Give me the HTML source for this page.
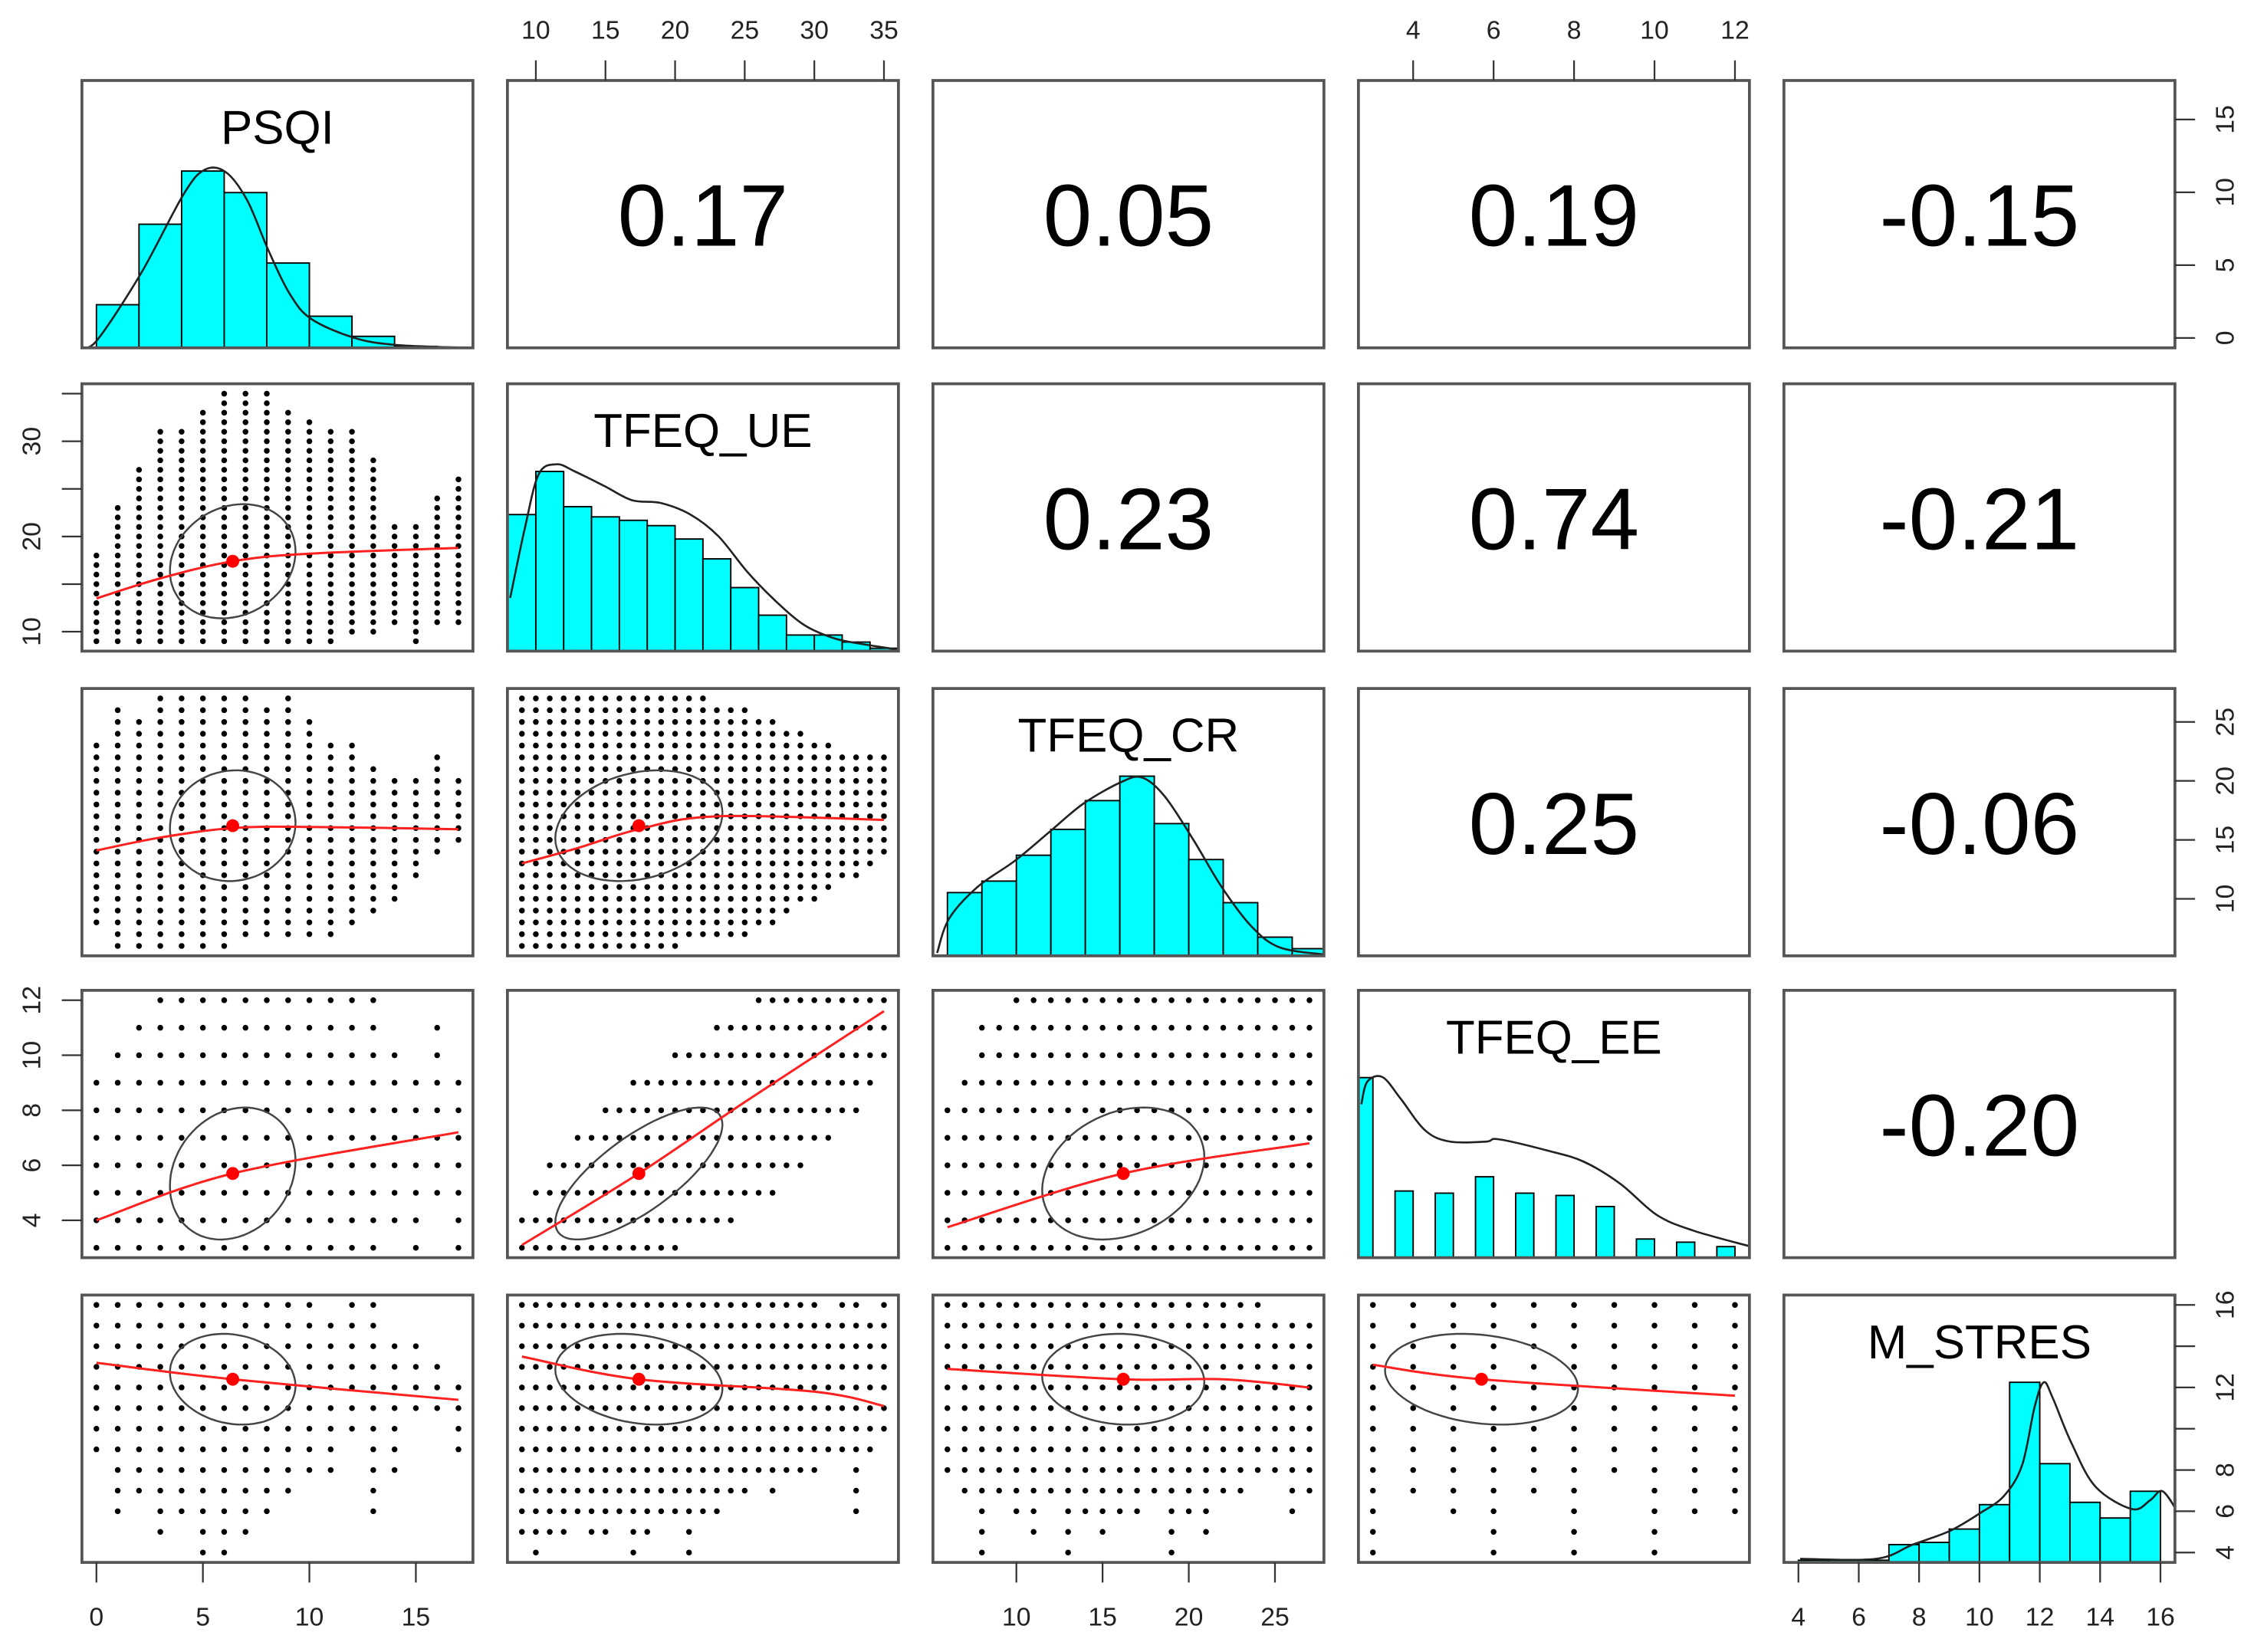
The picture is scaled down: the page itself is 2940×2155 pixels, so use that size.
<!DOCTYPE html>
<html><head><meta charset="utf-8">
<style>
html,body{margin:0;padding:0;background:#fff;}
svg{display:block;font-family:"Liberation Sans",Arial,sans-serif;}
</style></head>
<body>
<svg id="chart" width="2940" height="2155" viewBox="0 0 1568 1149.33" xmlns="http://www.w3.org/2000/svg"></svg>
<script>
// ---- variable data ----
const varNames = ["PSQI","TFEQ_UE","TFEQ_CR","TFEQ_EE","M_STRES"];
const varMin = [0,9,6,3,4];
const varMax = [17,35,27,12,16];
const varMean = [6.4,17.4,16.2,5.7,12.4];
const varSd = [2.95,6.0,4.7,2.4,2.2];
const corrLabels = ["0.17","0.05","0.19","-0.15","0.23","0.74","-0.21","0.25","-0.06","-0.20"];
const corrR = [0.17,0.05,0.19,-0.15,0.23,0.74,-0.21,0.25,-0.06,-0.20];

// ticks
const ticksPSQI = [0,5,10,15];
const ticksUE = [10,15,20,25,30,35];
const ticksUELeft = [10,15,20,25,30,35];
const labelsUELeft = ["10","","20","","30",""];
const ticksCR = [10,15,20,25];
const ticksEE = [4,6,8,10,12];
const ticksMS = [4,6,8,10,12,14,16];
const labelsMSRight = ["4","6","8","","12","","16"];

// histograms (bar heights, relative units)
const histPSQIStart = 0, histPSQIWidth = 2;
const histPSQI = [30,86,123,108,59,22,8,1];
const densPSQIx = [-0.68,0.07,2.1,4.1,5.1,6.1,7.1,8.1,9.1,10.1,12.1,14.1,17.7];
const densPSQIy = [0,6,52,107,124,122,102,67,37,20,7,2,0];
const histUEStart = 8, histUEWidth = 2;
const histUE = [95,125,100.5,93.4,91,87.3,78,64.2,44.2,25,11.2,11.2,6.3,2];
const densUEx = [8.16,9.2,10.2,11.5,12.8,14.9,16.9,19.0,21.1,23.1,25.2,27.2,29.3,31.4,33.4,36];
const densUEy = [37,85,123,130,125,115,105,103,95,80,55,35,18,9,5,1];
const histCRStart = 6, histCRWidth = 2;
const histCR = [44,52,70,88,108,125,92,67,37,13,5];
const densCRx = [5.4,6.1,7.75,9.9,11.9,13.9,16.1,17.3,18.6,20.25,21.9,23.6,25.25,27.8];
const densCRy = [2,26,48,66,86,106,121,124,111,81,48,21,6,1];
const histEEStart = 2.55, histEEWidth = 1, histEEFill = 0.45;
const histEE = [125.3,46.4,44.9,56.3,44.9,43.3,35.6,13,10.8,7.7];
const densEEx = [2.71,2.86,3.24,3.70,4.30,4.91,5.82,6.12,7.33,8.24,9.15,10.06,10.96,12.4];
const densEEy = [106.7,122.5,125.6,110.2,88.5,80.8,80.8,82.4,74.6,66.8,51.4,29.7,18.9,7.7];
const histMSStart = 4, histMSWidth = 1;
const histMS = [1.5,1.5,1.5,12.4,13.9,23.2,40.2,125.3,68.7,41.8,30.9,49.5];
const densMSx = [4.06,6.58,7.79,9.0,10.0,10.82,11.42,11.83,12.13,12.43,13.04,13.85,15.06,15.66,16.07,16.6];
const densMSy = [2.5,2.5,12.4,21.7,34,46.4,68,108.3,125.3,114.4,83.5,52.6,37.1,43.3,49.5,34];
const histYMax = 186;

// scatter column ranges (per integer x value, y from min to max)
const ue_psqi_min = [9,9,9,9,9,9,9,9,9,9,9,9,10,10,11,9,11,11];
const ue_psqi_max = [18,23,27,31,31,33,35,35,35,33,32,31,31,28,21,21,24,26];
const cr_psqi_min = [8,6,6,6,6,6,6,7,7,7,7,7,8,9,10,12,14,15];
const cr_psqi_max = [23,26,25,27,27,27,27,27,26,27,25,23,23,21,20,20,22,20];
const ee_psqi_min = [3,3,3,3,3,3,3,3,3,3,3,3,3,3,4,3,5,3];
const ee_psqi_max = [9,10,11,12,12,12,12,12,12,12,12,12,12,12,10,9,11,9];
const ms_psqi_min = [9,6,7,5,6,4,4,5,6,7,8,8,10,6,8,11,11,9];
const ms_psqi_max = [16,16,16,16,16,16,16,16,16,16,16,15,16,16,14,14,13,12];
const cr_ue_min = [6,6,6,6,6,6,6,6,6,6,6,6,7,7,7,7,7,8,8,9,10,10,11,12,12,13,14];
const cr_ue_max = [27,27,27,27,27,27,27,27,27,27,27,27,27,27,26,26,26,25,25,24,24,23,23,22,22,22,22];
const ee_ue_min = [3,3,3,3,3,3,3,3,3,3,3,3,4,4,4,4,5,5,5,6,6,7,7,8,8,9,10];
const ee_ue_max = [4,5,6,6,7,7,8,8,9,9,9,10,10,10,11,11,11,12,12,12,12,12,12,12,12,12,12];
const ms_ue_min = [5,4,5,5,6,5,5,6,4,5,6,6,4,6,6,7,7,8,7,8,8,8,9,9,6,9,10];
const ms_ue_max = [16,16,16,16,16,16,16,16,16,16,16,16,16,16,16,16,16,16,16,16,16,16,15,16,16,15,16];
const ee_cr_min = [3,3,3,3,3,3,3,3,3,3,3,3,3,3,3,3,3,3,3,3,3,3];
const ee_cr_max = [8,9,11,11,12,12,12,12,12,12,12,12,12,12,12,12,12,12,12,12,12,12];
const ms_cr_min = [8,7,4,7,6,5,7,4,6,5,6,6,7,4,6,5,7,7,8,8,6,7];
const ms_cr_max = [16,16,16,16,16,16,16,16,16,16,16,16,16,16,16,16,16,16,16,15,15,15];
const ms_ee_min = [4,7,6,4,7,4,8,4,6,6];
const ms_ee_max = [16,16,16,16,16,16,16,16,16,16];

// loess fits
const lo_ue_psqi_x = [0,3,6.4,10,17], lo_ue_psqi_y = [13.5,15.6,17.4,18.2,18.8];
const lo_cr_psqi_x = [0,3,6.4,10,17], lo_cr_psqi_y = [14.1,15.2,16.0,16.1,15.9];
const lo_ee_psqi_x = [0,6.4,17], lo_ee_psqi_y = [4.0,5.7,7.2];
const lo_ms_psqi_x = [0,6.4,17], lo_ms_psqi_y = [13.2,12.4,11.4];
const lo_cr_ue_x = [9,13,17.4,23,35], lo_cr_ue_y = [13.0,14.3,15.9,17.0,16.7];
const lo_ee_ue_x = [9,17.4,25,35], lo_ee_ue_y = [3.1,5.7,8.3,11.6];
const lo_ms_ue_x = [9,17.4,30,35], lo_ms_ue_y = [13.5,12.4,11.8,11.1];
const lo_ee_cr_x = [6,16.2,27], lo_ee_cr_y = [3.75,5.7,6.8];
const lo_ms_cr_x = [6,16.2,22,27], lo_ms_cr_y = [12.9,12.4,12.4,12.0];
const lo_ms_ee_x = [3,5.7,12], lo_ms_ee_y = [13.1,12.4,11.6];

// ---- layout ----
const L = [57,353,649,945,1241], T = [56,267,479,689,901], W = 272, H = 186;
const NS = "http://www.w3.org/2000/svg";
const svg = document.getElementById("chart");
function el(tag, attrs, parent){ const e=document.createElementNS(NS,tag); for(const k in attrs) e.setAttribute(k,attrs[k]); (parent||svg).appendChild(e); return e; }
function lo(v){ return varMin[v]-0.04*(varMax[v]-varMin[v]); }
function hi(v){ return varMax[v]+0.04*(varMax[v]-varMin[v]); }
function sx(v,c,val){ return L[c] + (val-lo(v))/(hi(v)-lo(v))*W; }
function sy(v,r,val){ return T[r]+H - (val-lo(v))/(hi(v)-lo(v))*H; }
function hy(r,val){ return T[r]+H - val/histYMax*H; }
function smoothPath(P){
  if(P.length<3) return "M"+P.map(p=>p[0].toFixed(1)+","+p[1].toFixed(1)).join(" L");
  let d="M"+P[0][0].toFixed(1)+","+P[0][1].toFixed(1);
  for(let i=0;i<P.length-1;i++){
    const p0=P[Math.max(0,i-1)],p1=P[i],p2=P[i+1],p3=P[Math.min(P.length-1,i+2)];
    const c1=[p1[0]+(p2[0]-p0[0])/6,p1[1]+(p2[1]-p0[1])/6];
    const c2=[p2[0]-(p3[0]-p1[0])/6,p2[1]-(p3[1]-p1[1])/6];
    d+=" C"+c1[0].toFixed(1)+","+c1[1].toFixed(1)+" "+c2[0].toFixed(1)+","+c2[1].toFixed(1)+" "+p2[0].toFixed(1)+","+p2[1].toFixed(1);
  }
  return d;
}

const rangesMin = {"1-0":ue_psqi_min,"2-0":cr_psqi_min,"3-0":ee_psqi_min,"4-0":ms_psqi_min,"2-1":cr_ue_min,"3-1":ee_ue_min,"4-1":ms_ue_min,"3-2":ee_cr_min,"4-2":ms_cr_min,"4-3":ms_ee_min};
const rangesMax = {"1-0":ue_psqi_max,"2-0":cr_psqi_max,"3-0":ee_psqi_max,"4-0":ms_psqi_max,"2-1":cr_ue_max,"3-1":ee_ue_max,"4-1":ms_ue_max,"3-2":ee_cr_max,"4-2":ms_cr_max,"4-3":ms_ee_max};
const loX = {"1-0":lo_ue_psqi_x,"2-0":lo_cr_psqi_x,"3-0":lo_ee_psqi_x,"4-0":lo_ms_psqi_x,"2-1":lo_cr_ue_x,"3-1":lo_ee_ue_x,"4-1":lo_ms_ue_x,"3-2":lo_ee_cr_x,"4-2":lo_ms_cr_x,"4-3":lo_ms_ee_x};
const loY = {"1-0":lo_ue_psqi_y,"2-0":lo_cr_psqi_y,"3-0":lo_ee_psqi_y,"4-0":lo_ms_psqi_y,"2-1":lo_cr_ue_y,"3-1":lo_ee_ue_y,"4-1":lo_ms_ue_y,"3-2":lo_ee_cr_y,"4-2":lo_ms_cr_y,"4-3":lo_ms_ee_y};
const hists = [
  [histPSQI,histPSQIStart,histPSQIWidth,1,densPSQIx,densPSQIy],
  [histUE,histUEStart,histUEWidth,1,densUEx,densUEy],
  [histCR,histCRStart,histCRWidth,1,densCRx,densCRy],
  [histEE,histEEStart,histEEWidth,histEEFill,densEEx,densEEy],
  [histMS,histMSStart,histMSWidth,1,densMSx,densMSy]];

function corrIndex(i,j){
  let k=0; for(let a=0;a<5;a++) for(let b=a+1;b<5;b++){ if(a===i&&b===j) return k; k++; } return -1; }

for(let r=0;r<5;r++){
  for(let c=0;c<5;c++){
    const g = el("g",{});
    
    
    const cpId = "cp"+r+"-"+c;
    const cp = el("clipPath",{id:cpId},g); el("rect",{x:L[c],y:T[r],width:W,height:H},cp);
    if(r===c){
      const [bars,start,bw,fill,dx,dy] = hists[r];
      const hg = el("g",{"clip-path":"url(#"+cpId+")"},g);
      bars.forEach((b,k)=>{
        const x0 = start + k*bw, x1 = x0 + bw*fill;
        const rect = el("rect",{x:sx(c,c,x0),y:hy(r,b),width:sx(c,c,x1)-sx(c,c,x0),height:b/histYMax*H,fill:"#00ffff",stroke:"#000","stroke-width":1},hg);
        
        
      });
      const P = dx.map((x,k)=>[sx(c,c,x),hy(r,dy[k])]);
      const dl = el("path",{d:smoothPath(P),fill:"none",stroke:"#222","stroke-width":1.4},hg);
      
      
      const t = el("text",{x:L[c]+W/2,y:T[r]+44,"text-anchor":"middle","font-size":33,fill:"#000"},g);
      t.textContent = varNames[r];
      
      
    } else if(r<c){
      const k = corrIndex(r,c);
      const t = el("text",{x:L[c]+W/2,y:T[r]+H/2+22,"text-anchor":"middle","font-size":61,fill:"#000"},g);
      t.textContent = corrLabels[k];
      
      
    } else {
      const key = r+"-"+c;
      const mins = rangesMin[key], maxs = rangesMax[key];
      const pg = el("g",{fill:"#000"},g);
      
      
      for(let k=0;k<mins.length;k++){
        const xv = varMin[c]+k;
        for(let yv=mins[k]; yv<=maxs[k]; yv++){
          const d = el("circle",{cx:sx(c,c,xv),cy:sy(r,r,yv),r:2},pg);
          
          
        }
      }
      const rr = corrR[corrIndex(c,r)], dd = Math.acos(rr);
      const ep=[];
      for(let s=0;s<=72;s++){ const t=s/72*2*Math.PI;
        ep.push(sx(c,c,varMean[c]+varSd[c]*Math.cos(t)).toFixed(1)+","+sy(r,r,varMean[r]+varSd[r]*Math.cos(t-dd)).toFixed(1)); }
      const e = el("polyline",{points:ep.join(" "),fill:"none",stroke:"#444","stroke-width":1.3},g);
      
      
      const lx = loX[key], ly = loY[key];
      const LP = lx.map((x,k)=>[sx(c,c,x),sy(r,r,ly[k])]);
      const l = el("path",{d:smoothPath(LP),fill:"none",stroke:"#ff2020","stroke-width":1.6},g);
      
      
      const m = el("circle",{cx:sx(c,c,varMean[c]),cy:sy(r,r,varMean[r]),r:4.5,fill:"#ff0000"},g);
      
      
    }
    const fr = el("rect",{x:L[c],y:T[r],width:W,height:H,fill:"none",stroke:"#555","stroke-width":2},g);
    
    
  }
}

// ---- axes ----
function xAxis(c, ticks, labels, side){
  const g = el("g",{});
  
  
  const y0 = side==="top" ? T[0] : T[4]+H;
  const dir = side==="top" ? -1 : 1;
  ticks.forEach((v,k)=>{
    const x = sx(c,c,v);
    el("line",{x1:x,y1:y0,x2:x,y2:y0+dir*14,stroke:"#333","stroke-width":1.2},g);
    const t = el("text",{x:x,y:side==="top"?y0-29:y0+44,"text-anchor":"middle","font-size":18,fill:"#222"},g);
    t.textContent = labels ? labels[k] : String(v);
    
    
  });
}
function yAxis(r, ticks, labels, side){
  const g = el("g",{});
  
  
  const x0 = side==="left" ? L[0] : L[4]+W;
  const dir = side==="left" ? -1 : 1;
  ticks.forEach((v,k)=>{
    const y = sy(r,r,v);
    el("line",{x1:x0,y1:y,x2:x0+dir*14,y2:y,stroke:"#333","stroke-width":1.2},g);
    const lab = labels ? labels[k] : String(v);
    if(lab){
      const tx = side==="left" ? x0-29 : x0+41;
      const t = el("text",{x:tx,y:y,"text-anchor":"middle","font-size":18,fill:"#222",transform:"rotate(-90 "+tx+" "+y+")"},g);
      t.textContent = lab;
      
      
    }
  });
}
xAxis(0, ticksPSQI, null, "bottom");
xAxis(1, ticksUE, null, "top");
xAxis(2, ticksCR, null, "bottom");
xAxis(3, ticksEE, null, "top");
xAxis(4, ticksMS, null, "bottom");
yAxis(0, ticksPSQI, null, "right");
yAxis(1, ticksUELeft, labelsUELeft, "left");
yAxis(2, ticksCR, null, "right");
yAxis(3, ticksEE, null, "left");
yAxis(4, ticksMS, labelsMSRight, "right");
</script>
</body></html>
